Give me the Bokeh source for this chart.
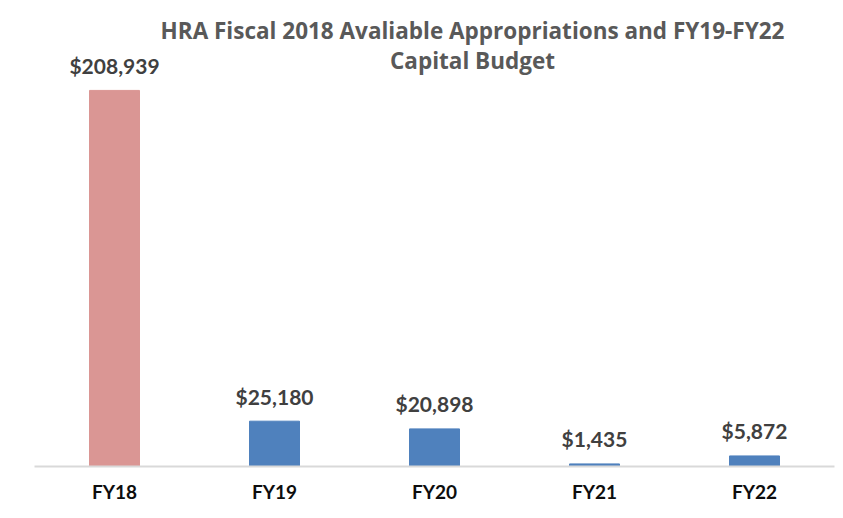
from bokeh.plotting import figure
from bokeh.models import ColumnDataSource, Range1d, FactorRange, BoxAnnotation
from bokeh.core.properties import value
from bokeh.embed import file_html
from bokeh.resources import INLINE

categories = ["FY18", "FY19", "FY20", "FY21", "FY22"]
amounts = [208939, 25180, 20898, 1435, 5872]
labels = ["$208,939", "$25,180", "$20,898", "$1,435", "$5,872"]
bar_colors = ["#DA9694", "#4F81BD", "#4F81BD", "#4F81BD", "#4F81BD"]
title_lines = ["HRA Fiscal 2018 Avaliable Appropriations and FY19-FY22", "Capital Budget"]

FONT = "Lato"

source = ColumnDataSource(dict(cat=categories, amt=amounts, lab=labels, col=bar_colors))

p = figure(
    x_range=FactorRange(factors=categories, range_padding=0),
    y_range=Range1d(0, 250000),
    width=843, height=518,
    output_backend="svg", toolbar_location=None,
    min_border_left=34, min_border_right=9, min_border_top=16, min_border_bottom=52,
)

frame_box = BoxAnnotation(left=7, right=2000, top=5, bottom=2000,
                          left_units="canvas", right_units="canvas",
                          top_units="canvas", bottom_units="canvas",
                          fill_color=None, line_color="#D9D9D9", line_width=2,
                          level="underlay")
p.add_layout(frame_box)

p.vbar(x="cat", top="amt", width=0.3125, color="col", source=source)

p.text(x="cat", y="amt", text="lab", source=source,
       text_align="center", text_baseline="middle", y_offset=-25,
       text_font=value(FONT), text_font_style="bold", text_font_size="21px",
       text_color="#404040")

# title
p.text(x=[2.7375, 2.7375], y=[242222, 225556], text=title_lines,
       text_align="center", text_baseline="middle",
       text_font=value("Open Sans"), text_font_style="bold", text_font_size="22.5px",
       text_color="#595959")

p.yaxis.visible = False
p.xgrid.visible = False
p.ygrid.visible = False
p.outline_line_color = None
p.xaxis.axis_line_color = "#D9D9D9"
p.xaxis.axis_line_width = 2
p.xaxis.major_tick_line_color = None
p.xaxis.minor_tick_line_color = None
p.xaxis.major_label_standoff = 7
p.xaxis.major_label_text_font = FONT
p.xaxis.major_label_text_font_style = "bold"
p.xaxis.major_label_text_font_size = "19px"
p.xaxis.major_label_text_color = "#0D0D0D"

open("out.html", "w").write(file_html(p, INLINE))
